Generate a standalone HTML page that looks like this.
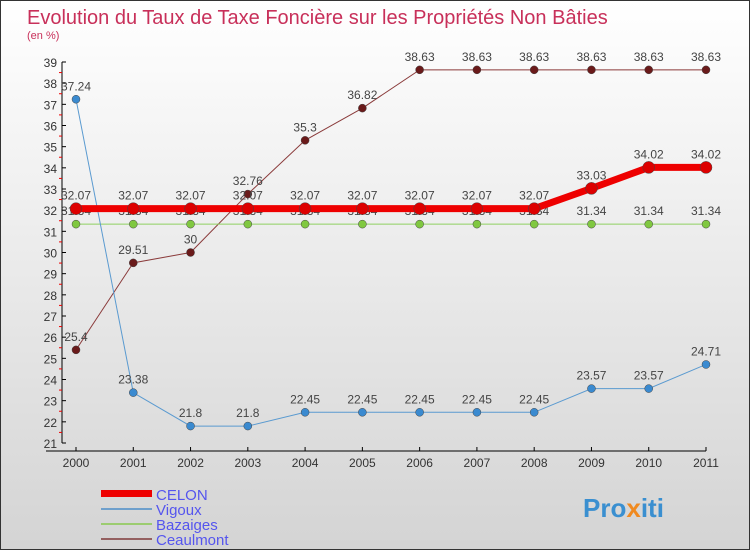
<!DOCTYPE html>
<html><head><meta charset="utf-8"><style>
body{margin:0}
#c{width:750px;height:550px;position:relative;box-sizing:border-box;border:1px solid #333;background:linear-gradient(#ffffff,#d4d4d4);font-family:"Liberation Sans",sans-serif;overflow:hidden}
</style></head><body>
<div id="c">
<svg id="s" width="750" height="550" style="position:absolute;left:0;top:0">
<text x="26" y="23" font-size="20" fill="#c8305a">Evolution du Taux de Taxe Foncière sur les Propriétés Non Bâties</text>
<text x="26" y="38" font-size="11" fill="#c8305a">(en %)</text>
<g id="axes"></g><g id="series"></g>
<g>
<rect x="100" y="489" width="51" height="7" fill="#e00"/>
<text x="155" y="499" font-size="15" fill="#5555ee">CELON</text>
<line x1="100" y1="508" x2="151" y2="508" stroke="#6fa0cc" stroke-width="2"/>
<text x="155" y="514" font-size="15" fill="#5555ee">Vigoux</text>
<line x1="100" y1="523" x2="151" y2="523" stroke="#9ccc70" stroke-width="2"/>
<text x="155" y="529" font-size="15" fill="#5555ee">Bazaiges</text>
<line x1="100" y1="538" x2="151" y2="538" stroke="#946060" stroke-width="2"/>
<text x="155" y="544" font-size="15" fill="#5555ee">Ceaulmont</text>
</g>
<text x="582" y="516" font-size="26" font-weight="bold" fill="#3a8fd0">Pro<tspan fill="#f08a20">x</tspan>iti</text>
</svg>
</div>
<script>
const years=[2000,2001,2002,2003,2004,2005,2006,2007,2008,2009,2010,2011];
const celon=[32.07,32.07,32.07,32.07,32.07,32.07,32.07,32.07,32.07,33.03,34.02,34.02];
const vigoux=[37.24,23.38,21.8,21.8,22.45,22.45,22.45,22.45,22.45,23.57,23.57,24.71];
const bazaiges=[31.34,31.34,31.34,31.34,31.34,31.34,31.34,31.34,31.34,31.34,31.34,31.34];
const ceaulmont=[25.4,29.51,30,32.76,35.3,36.82,38.63,38.63,38.63,38.63,38.63,38.63];
const yTicks=[21,22,23,24,25,26,27,28,29,30,31,32,33,34,35,36,37,38,39];
const NS="http://www.w3.org/2000/svg";
const xS=i=>75+i*(630/(years.length-1));
const yS=v=>442-(v-21)*(381/18);
function mk(p,t,a){const e=document.createElementNS(NS,t);for(const k in a)e.setAttribute(k,a[k]);p.appendChild(e);return e;}
const ax=document.getElementById('axes'),sr=document.getElementById('series');
let e=mk(ax,'line',{x1:61,y1:61,x2:61,y2:442,stroke:'#000'});


e=mk(ax,'line',{x1:45,y1:450,x2:705,y2:450,stroke:'#000'});


yTicks.forEach(v=>{const y=yS(v);
 mk(ax,'line',{x1:61,y1:y,x2:65,y2:y,stroke:'#000'});
 if(v<39)mk(ax,'line',{x1:58,y1:y-10.6,x2:61,y2:y-10.6,stroke:'#e00'});
 const t=mk(ax,'text',{x:56,y:y+5,'font-size':12,'text-anchor':'end',fill:'#333'});t.textContent=v;
 
 });
years.forEach((yr,i)=>{const x=xS(i);
 mk(ax,'line',{x1:x,y1:446,x2:x,y2:450,stroke:'#000'});
 const t=mk(ax,'text',{x:x,y:466,'font-size':12,'text-anchor':'middle',fill:'#333'});t.textContent=yr;
 
 });
function series(d,name,col,dot,w,r){
 const g=mk(sr,'g',{});
 
 
 mk(g,'polyline',{points:d.map((v,i)=>xS(i)+','+yS(v)).join(' '),fill:'none',stroke:col,'stroke-width':w});
 d.forEach((v,i)=>{const c=mk(g,'circle',{cx:xS(i),cy:yS(v),r:r,fill:dot,stroke:'#444','stroke-width':0.5});
  
  
  const t=mk(g,'text',{x:xS(i),y:yS(v)-9,'font-size':12,'text-anchor':'middle',fill:'#444'});t.textContent=v;
  
  });
}
series(ceaulmont,'ceaulmont','#8a3a3a','#6a1a1a',1,4);
series(bazaiges,'bazaiges','#8fd060','#80c840',1,4);
series(vigoux,'vigoux','#5a9ad0','#3a8ad0',1,4);
series(celon,'celon','#ee0000','#dd0000',7,6);
</script>
</body></html>
